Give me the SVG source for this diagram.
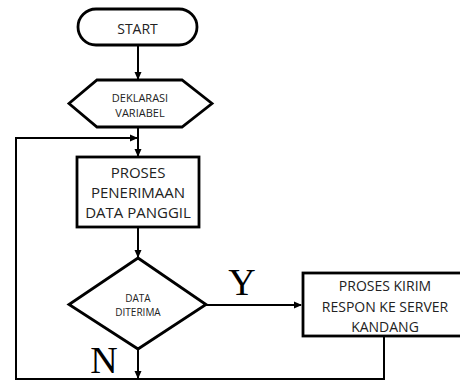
<svg xmlns="http://www.w3.org/2000/svg" width="460" height="381" viewBox="0 0 460 381">
<defs>
<marker id="ah" markerWidth="8" markerHeight="8" refX="7" refY="4" orient="auto" markerUnits="userSpaceOnUse">
<path d="M0,0.5 L8,4 L0,7.5 Z" fill="#000"/>
</marker>
<style>
.shape{fill:#fff;stroke:#000;stroke-width:2.8}
.ln{fill:none;stroke:#000;stroke-width:2}
.t{font-family:"Open Sans","Noto Sans",sans-serif;fill:#222;text-anchor:middle;dominant-baseline:central}
.lbl{font-family:"Liberation Serif","Times New Roman",serif;fill:#000;text-anchor:middle}
</style>
</defs>
<rect width="460" height="381" fill="#fff"/>
<g id="connectors">
<line class="ln" x1="138" y1="45" x2="138" y2="79" marker-end="url(#ah)"/>
<line class="ln" x1="138" y1="127" x2="138" y2="156" marker-end="url(#ah)"/>
<polyline class="ln" points="16,379 16,138 137,138" marker-end="url(#ah)"/>
<line class="ln" x1="138" y1="227" x2="138" y2="257" marker-end="url(#ah)"/>
<line class="ln" x1="206" y1="305" x2="301" y2="305" marker-end="url(#ah)"/>
<line class="ln" x1="138" y1="349" x2="138" y2="378" marker-end="url(#ah)"/>
<polyline class="ln" points="384,336 384,379 15,379"/>
<text class="lbl" x="242" y="295" font-size="38">Y</text>
<text class="lbl" x="104" y="373" font-size="38">N</text>
</g>
<g id="start">
<rect class="shape" x="78" y="9" width="119" height="36" rx="18" ry="18"/>
<text class="t" x="137.5" y="28" font-size="14">START</text>
</g>
<g id="deklarasi">
<polygon class="shape" points="97,80 182,80 212,103.5 182,127 97,127 69,103.5"/>
<text class="t" x="140" y="97" font-size="11">DEKLARASI</text>
<text class="t" x="140" y="112" font-size="11">VARIABEL</text>
</g>
<g id="proses-penerimaan">
<rect class="shape" x="77" y="157" width="122" height="70"/>
<text class="t" x="138" y="172" font-size="15">PROSES</text>
<text class="t" x="138" y="192" font-size="15">PENERIMAAN</text>
<text class="t" x="138" y="212" font-size="15">DATA PANGGIL</text>
</g>
<g id="data-diterima">
<polygon class="shape" points="138,258 206,304.5 138,349 69,304.5"/>
<text class="t" x="138" y="298" font-size="10">DATA</text>
<text class="t" x="138" y="312" font-size="10">DITERIMA</text>
</g>
<g id="proses-kirim">
<rect class="shape" x="303" y="273" width="165" height="63"/>
<text class="t" x="385" y="285" font-size="14">PROSES KIRIM</text>
<text class="t" x="385" y="306" font-size="14">RESPON KE SERVER</text>
<text class="t" x="385" y="326" font-size="14">KANDANG</text>
</g>
</svg>
